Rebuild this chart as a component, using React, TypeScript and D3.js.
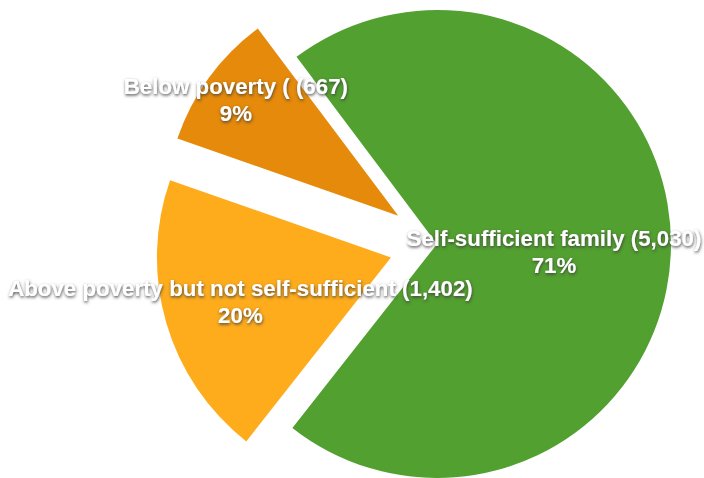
import React from "react";
import * as d3 from "d3";

const categories = ["Self-sufficient family", "Above poverty but not self-sufficient", "Below poverty ("];
const values = [5030, 1402, 667];
const percentLabels = ["71%", "20%", "9%"];
const colors = ["#52a030", "#feac1c", "#e58a0a"];
const explodeOffsets = [0, 48, 48];
const labelRadiusFactors = [0.5, 0.67, 0.86];
const labelNudgeY = [6, 0, 2];

const W = 704;
const H = 478;
const CX = 437;
const CY = 244;
const R = 234;
const START = (-36.9 * Math.PI) / 180;

export default function App() {
  const pie = d3
    .pie<number>()
    .sort(null)
    .value((d) => d)
    .startAngle(START)
    .endAngle(START + 2 * Math.PI);
  const arcs = pie(values);
  const arc = d3.arc<d3.PieArcDatum<number>>().innerRadius(0).outerRadius(R);
  const fmt = d3.format(",");

  return (
    <svg
      width={W}
      height={H}
      style={{ position: "fixed", left: 0, top: 0, background: "#fff" }}
    >
      <defs>
        <filter id="ts" x="-10%" y="-50%" width="120%" height="200%">
          <feDropShadow dx="0.5" dy="1.5" stdDeviation="1.6" floodColor="#3a3a3a" floodOpacity="0.9" />
        </filter>
      </defs>
      {arcs.map((a, i) => {
        const mid = (a.startAngle + a.endAngle) / 2;
        const ox = Math.sin(mid) * explodeOffsets[i];
        const oy = -Math.cos(mid) * explodeOffsets[i];
        return (
          <g key={"s" + i} transform={`translate(${CX + ox},${CY + oy})`}>
            <path d={arc(a) || ""} fill={colors[i]} />
          </g>
        );
      })}
      {arcs.map((a, i) => {
        const mid = (a.startAngle + a.endAngle) / 2;
        const ox = Math.sin(mid) * explodeOffsets[i];
        const oy = -Math.cos(mid) * explodeOffsets[i];
        const lr = R * labelRadiusFactors[i];
        const lx = CX + ox + Math.sin(mid) * lr;
        const ly = CY + oy - Math.cos(mid) * lr + labelNudgeY[i];
        return (
          <g
            key={"l" + i}
            transform={`translate(${lx},${ly})`}
            filter="url(#ts)"
            style={{
              fontFamily: "'Liberation Sans', Arial, Helvetica, sans-serif",
              fontWeight: "bold",
              fontSize: 22.3,
              fill: "#ffffff",
            }}
            textAnchor="middle"
          >
            <text y={-11} dominantBaseline="middle">
              {`${categories[i]} (${fmt(values[i])})`}
            </text>
            <text y={16} dominantBaseline="middle">
              {percentLabels[i]}
            </text>
          </g>
        );
      })}
    </svg>
  );
}
